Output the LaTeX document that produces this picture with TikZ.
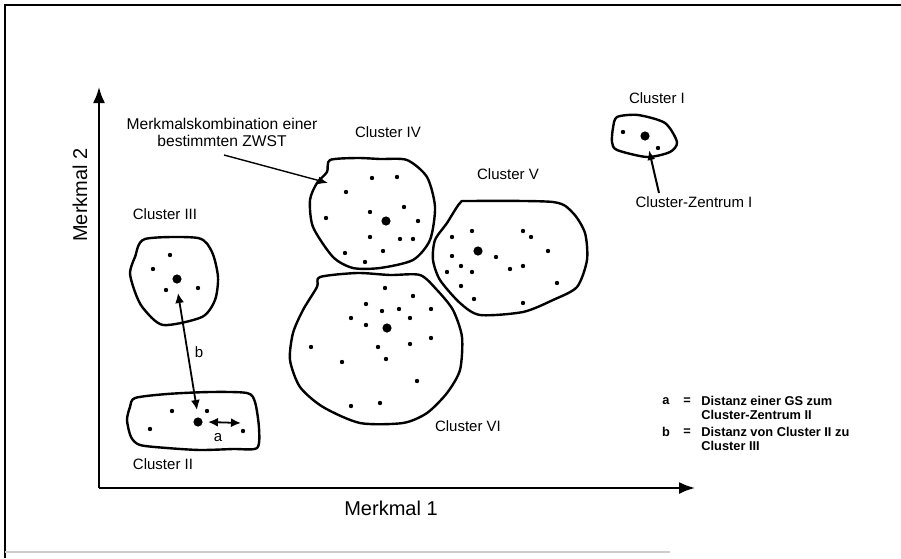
\documentclass[tikz,border=0pt]{standalone}
\usepackage{fontspec}
\setmainfont{Liberation Sans}
\usetikzlibrary{arrows.meta}

\begin{document}
\begin{tikzpicture}[x=0.5pt,y=-0.5pt]
%%%%%%%%%%%%%%%%%%%%%%%%%%%%%%%%%%%%%%%%%%%%%%%%%%%%%%%%%%%%%%
%styles
\tikzstyle{blob}=[line width=1.2pt,line join=round]
\tikzstyle{clabel}=[font=\fontsize{7.5}{9}\selectfont,inner sep=0pt]
\tikzstyle{legend}=[font=\bfseries\fontsize{6.4}{7}\selectfont,inner sep=0pt,align=left]
\tikzstyle{axislabel}=[font=\fontsize{10}{12}\selectfont,inner sep=0pt]
\tikzstyle{pointer}=[-{Latex[length=5pt,width=4pt]},line width=0.7pt]
\tikzstyle{dist}=[{Latex[length=5pt,width=4.5pt]}-{Latex[length=5pt,width=4.5pt]},line width=0.9pt]
\useasboundingbox (0,0) rectangle (901,558);
%frame
\draw[line width=1pt] (5,558) -- (5,5) -- (901,5);
\draw[black!20,line width=0.6pt] (5,552) -- (670,552);
%%%%%%%%%%%%%%%%%%%%%%%%%%%%%%%%%%%%%%%%%%%%%%%%%%%%%%%%%%%%%%
%axes
\coordinate (O) at (99,488);
\coordinate (ytip) at (99,87);
\coordinate (xtip) at (695,488);
\draw[-{Latex[length=8pt,width=6pt]},line width=1pt] (O) -- (ytip);
\draw[-{Latex[length=8pt,width=6pt]},line width=1pt] (O) -- (xtip);
\node[axislabel,rotate=90] (m2) at (80,195) {Merkmal 2};
\node[axislabel] (m1) at (391,508) {Merkmal 1};
%%%%%%%%%%%%%%%%%%%%%%%%%%%%%%%%%%%%%%%%%%%%%%%%%%%%%%%%%%%%%%
%clusters
\draw[blob] plot[smooth cycle,tension=0.45] coordinates {(617,117) (638,115) (665,123) (677,142) (670,152) (647,157) (617,150) (612,142) (613,128)};
\draw[blob] plot[smooth cycle,tension=0.45] coordinates {(145,239) (198,238) (212,252) (218,277) (215,300) (202,317) (163,325) (143,308) (135,292) (130,273) (135,257)};
\draw[blob] plot[smooth cycle,tension=0.45] coordinates {(135,398) (167,394) (210,392) (247,393) (255,402) (259,428) (257,448) (233,449) (200,450) (167,448) (140,445) (131,437) (127,420) (130,407)};
\draw[blob] plot[smooth cycle,tension=0.45] coordinates {(330,160) (357,158) (380,159) (407,160) (427,177) (435,207) (430,240) (413,260) (380,268) (353,268) (333,257) (313,227) (310,200) (317,183) (327,172)};
\draw[blob] plot[smooth cycle,tension=0.45] coordinates {(460,203) (470,201) (553,202) (573,213) (585,233) (587,260) (577,287) (553,300) (523,312) (480,315) (460,303) (440,280) (433,260) (435,240) (447,223)};
\draw[blob] plot[smooth cycle,tension=0.45] coordinates {(320,277) (357,273) (390,275) (420,275) (437,290) (453,310) (462,337) (460,370) (447,393) (427,413) (403,423) (360,423) (323,407) (300,387) (290,360) (293,333) (303,310) (317,287)};
%centres
\coordinate (cI) at (645,136);
\coordinate (cII) at (198,422);
\coordinate (cIII) at (177,279);
\coordinate (cIV) at (386,221);
\coordinate (cV) at (478,251);
\coordinate (cVI) at (387,328);
\foreach \c in {cI,cII,cIII,cIV,cV,cVI} \fill (\c) circle (2.3pt);
%points
\foreach \p in {(623,132),(658,148),
  (172,411),(207,411),(150,429),(243,431),
  (170,255),(153,269),(166,290),(198,288),
  (372,178),(397,177),(346,192),(404,207),(370,212),(326,218),(418,221),(370,237),(400,239),(413,239),(345,253),(383,251),(365,262),
  (452,237),(472,231),(523,231),(531,237),(548,251),(452,256),(496,257),(461,266),(447,272),(472,272),(510,269),(523,266),(461,286),(557,283),(474,299),(523,303),
  (385,288),(413,296),(366,304),(382,311),(399,309),(431,309),(351,318),(410,318),(366,325),(431,338),(311,347),(378,347),(410,344),(342,362),(386,359),(417,381),(351,406),(380,403)}
  \fill \p circle (1.1pt);
%%%%%%%%%%%%%%%%%%%%%%%%%%%%%%%%%%%%%%%%%%%%%%%%%%%%%%%%%%%%%%
%labels
\node[clabel] (lI) at (657,98) {Cluster I};
\node[clabel] (lII) at (163,464) {Cluster II};
\node[clabel] (lIII) at (165,214) {Cluster III};
\node[clabel] (lIV) at (388,132) {Cluster IV};
\node[clabel] (lV) at (508,174) {Cluster V};
\node[clabel] (lVI) at (468,426) {Cluster VI};
\node[clabel] (zentrum) at (694,202) {Cluster-Zentrum I};
\node[clabel,align=center,font=\fontsize{7.8}{8.5}\selectfont] (kombi) at (222,132) {Merkmalskombination einer\\bestimmten ZWST};
\node[clabel] (lb) at (199,352) {b};
\node[clabel] (la) at (218,438) {a};
%legend
\node[legend] (ka) at (666,401) {a};
\node[legend] (ea) at (687,401) {=};
\node[legend,anchor=west] (ta) at (701,408) {Distanz einer GS zum\\Cluster-Zentrum II};
\node[legend] (kb) at (666,432) {b};
\node[legend] (eb) at (687,432) {=};
\node[legend,anchor=west] (tb) at (701,439) {Distanz von Cluster II zu\\Cluster III};
%%%%%%%%%%%%%%%%%%%%%%%%%%%%%%%%%%%%%%%%%%%%%%%%%%%%%%%%%%%%%%
%ARROWS
\coordinate (kstart) at (224,155);
\coordinate (kend) at (328,183);
\coordinate (zstart) at (659,193);
\coordinate (zend) at (649,150);
\coordinate (b1) at (197,410);
\coordinate (b2) at (178,293);
\coordinate (a1) at (208,422);
\coordinate (a2) at (241,423);
\draw[pointer] (kstart) -- (kend);
\draw[pointer,line width=1pt] (zstart) -- (zend);
\draw[dist] (b1) -- (b2);
\draw[dist] (a1) -- (a2);
\end{tikzpicture}
\end{document}
